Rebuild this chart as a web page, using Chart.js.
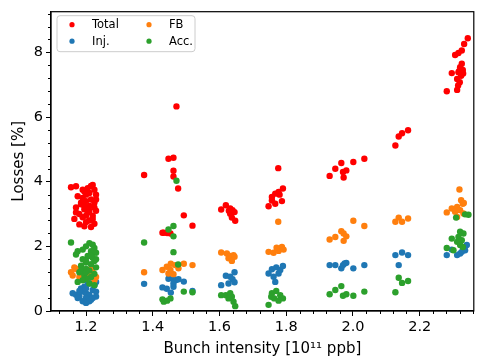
<!DOCTYPE html>
<html>
<head>
<meta charset="utf-8">
<script src="https://cdn.jsdelivr.net/npm/chart.js@4/dist/chart.umd.min.js"></script>
<style>
html,body{margin:0;padding:0;background:#fff;}
#wrap{width:477px;height:358px;position:relative;}
</style>
</head>
<body>
<div id="wrap"><canvas id="c" width="477" height="358"></canvas></div>
<script>
// ---- data ----
const seriesNames = ['Total', 'Inj.', 'FB', 'Acc.'];
const seriesColors = ['#ff0000', '#1f77b4', '#ff7f0e', '#2ca02c'];
const xTicks = [1.2, 1.4, 1.6, 1.8, 2.0, 2.2];
const yTicks = [0, 2, 4, 6, 8];

const totalX = [1.155,1.17,1.215,1.22,1.205,1.225,1.195,1.21,1.23,1.175,1.19,1.215,1.2,1.225,1.185,1.21,1.17,1.195,1.23,1.205,1.18,1.22,1.19,1.165,1.21,1.2,1.225,1.18,1.195,1.215,1.185,1.2,1.225,1.17,1.2,1.23,1.19,1.21,1.22,1.195,
  1.471,1.447,1.462,1.374,1.462,1.462,1.476,1.493,1.519,1.429,1.433,1.443,1.453,
  1.605,1.619,1.632,1.639,1.645,1.632,1.637,1.647,1.628,
  1.776,1.747,1.757,1.767,1.777,1.79,1.787,1.767,1.757,1.78,
  1.93,1.947,1.965,1.97,1.98,1.972,2.001,2.034,
  2.127,2.137,2.147,2.165,
  2.344,2.333,2.326,2.316,2.306,2.326,2.321,2.329,2.316,2.296,2.324,2.312,2.32,2.315,2.281,2.312,2.318,2.33];
const totalY = [3.83,3.86,3.87,3.9,3.8,3.75,3.7,3.65,3.6,3.55,3.5,3.45,3.4,3.35,3.3,3.25,3.2,3.15,3.1,3.05,3.0,2.95,2.9,2.85,2.8,2.75,2.7,2.68,2.62,2.6,3.35,3.6,3.2,3.05,2.95,3.45,3.75,3.1,2.85,3.25,
  6.33,4.71,4.74,4.21,4.34,4.16,3.79,2.96,2.64,2.42,2.42,2.41,2.40,
  3.14,3.27,3.17,3.12,3.06,3.01,2.89,2.79,3.10,
  4.42,3.24,3.53,3.63,3.68,3.79,3.40,3.32,3.42,3.60,
  4.18,4.40,4.58,4.30,4.35,4.13,4.61,4.71,
  5.12,5.40,5.50,5.59,
  8.44,8.26,8.06,7.98,7.92,7.65,7.54,7.46,7.39,7.36,7.28,7.18,7.08,6.98,6.80,6.84,7.42,7.35];

const injX = [1.16,1.17,1.18,1.19,1.2,1.21,1.22,1.23,1.225,1.21,1.195,1.2,1.215,1.19,1.185,1.23,1.205,1.18,1.22,1.2,1.21,1.175,1.23,1.2,
  1.374,1.429,1.442,1.454,1.447,1.462,1.47,1.477,1.462,1.493,1.519,1.462,
  1.605,1.619,1.632,1.645,1.639,1.627,1.645,
  1.747,1.757,1.77,1.782,1.79,1.762,1.777,1.767,
  1.93,1.947,1.965,1.97,1.975,1.98,2.001,2.034,
  2.127,2.147,2.165,2.137,
  2.341,2.336,2.321,2.312,2.281,2.296,2.326];
const injY = [0.55,0.5,0.45,0.6,0.55,0.5,0.65,0.6,0.8,0.85,0.75,0.4,0.35,0.3,0.7,0.45,0.9,0.62,0.4,0.7,0.3,0.4,0.9,0.25,
  0.84,0.73,0.69,0.57,1.0,0.98,0.96,0.98,0.75,0.91,0.62,0.85,
  0.80,1.09,1.06,1.20,0.98,0.85,0.89,
  1.16,1.29,1.35,1.27,1.39,1.06,1.16,0.90,
  1.42,1.42,1.32,1.42,1.47,1.49,1.32,1.42,
  1.73,1.81,1.73,1.42,
  2.04,1.88,1.78,1.73,1.73,1.90,1.83];

const fbX = [1.155,1.16,1.17,1.18,1.19,1.2,1.21,1.22,1.23,1.225,1.2,1.185,1.215,1.165,
  1.374,1.429,1.442,1.454,1.467,1.477,1.493,1.519,1.447,1.462,1.453,
  1.605,1.622,1.632,1.642,1.627,1.637,1.645,
  1.776,1.747,1.762,1.777,1.787,1.792,1.771,
  1.93,1.947,1.965,1.972,1.98,1.972,2.001,2.034,
  2.127,2.137,2.147,2.165,
  2.319,2.324,2.329,2.332,2.312,2.296,2.321,2.281,2.306,2.331,2.312];
const fbY = [1.2,1.1,1.3,1.05,1.15,1.25,1.1,1.2,1.05,0.95,1.0,1.25,1.3,1.35,
  1.20,1.27,1.37,1.46,1.42,1.32,1.46,1.42,1.16,1.14,1.27,
  1.81,1.78,1.70,1.73,1.63,1.55,1.68,
  2.76,1.83,1.80,1.86,1.98,1.90,1.96,
  2.21,2.29,2.47,2.40,2.31,2.17,2.79,2.63,
  2.76,2.89,2.76,2.86,
  3.76,3.43,3.32,3.34,3.22,3.17,3.12,3.05,3.07,3.02,2.91];

const accX = [1.155,1.175,1.17,1.21,1.22,1.2,1.225,1.19,1.215,1.23,1.205,1.22,1.19,1.225,1.2,1.215,1.185,1.23,1.2,1.21,1.18,1.225,1.195,1.215,1.2,1.19,1.175,1.21,1.225,1.2,1.23,1.185,1.215,1.2,
  1.471,1.374,1.462,1.447,1.462,1.462,1.476,1.493,1.519,1.429,1.433,1.443,1.453,
  1.605,1.619,1.632,1.637,1.627,1.642,1.647,
  1.747,1.757,1.77,1.782,1.79,1.764,1.777,1.755,
  1.93,1.947,1.965,1.97,1.98,2.001,2.034,
  2.127,2.137,2.147,2.165,
  2.336,2.346,2.309,2.321,2.331,2.316,2.326,2.296,2.312,2.321,2.281,2.301,2.329];
const accY = [2.12,1.85,1.75,2.1,2.05,2.0,1.95,1.9,1.85,1.8,1.7,1.65,1.6,1.55,1.5,1.45,1.4,1.35,1.3,1.25,1.2,1.15,1.1,1.05,1.0,0.95,0.9,0.85,0.8,1.55,1.6,1.25,1.7,1.2,
  4.03,2.12,2.63,2.52,2.31,1.82,1.44,0.60,0.58,0.36,0.29,0.32,0.39,
  0.49,0.49,0.55,0.44,0.39,0.29,0.15,
  0.19,0.55,0.62,0.49,0.39,0.39,0.32,0.44,
  0.52,0.65,0.77,0.47,0.52,0.47,0.60,
  0.58,1.03,0.87,0.93,
  2.99,2.98,2.89,2.45,2.40,2.29,2.19,2.24,2.14,2.04,1.95,1.88,1.98];

const xRange = [1.095, 2.362];
const yRange = [0, 9.26];

// ---- chart ----
const FONT = "'DejaVu Sans', sans-serif";
function pts(xs, ys) { return xs.map((x, i) => ({x: x, y: ys[i]})); }
const seriesData = [pts(totalX, totalY), pts(injX, injY), pts(fbX, fbY), pts(accX, accY)];

const decor = {
  id: 'decor',
  afterDraw(chart) {
    const {ctx, chartArea: a, scales: {x, y}} = chart;
    ctx.save();
    ctx.strokeStyle = '#000';
    ctx.lineWidth = 1;
    // minor ticks
    ctx.beginPath();
    const isMajor = (v, list) => list.some(t => Math.abs(t - v) < 1e-6);
    for (let k = Math.ceil(xRange[0] / 0.04); k * 0.04 <= xRange[1]; k++) {
      const v = k * 0.04;
      if (isMajor(v, xTicks)) continue;
      const px = Math.round(x.getPixelForValue(v)) + 0.5;
      ctx.moveTo(px, a.bottom); ctx.lineTo(px, a.bottom + 3);
    }
    for (let k = 1; k * 0.4 <= yRange[1]; k++) {
      const v = k * 0.4;
      if (isMajor(v, yTicks)) continue;
      const py = Math.round(y.getPixelForValue(v)) + 0.5;
      ctx.moveTo(a.left, py); ctx.lineTo(a.left - 3, py);
    }
    ctx.stroke();
    // frame
    ctx.lineWidth = 1.2;
    ctx.strokeRect(a.left, a.top, a.right - a.left, a.bottom - a.top);
    // legend
    const lx = a.left + 6, ly = a.top + 4, lw = 138, lh = 36, r = 3;
    ctx.beginPath();
    ctx.moveTo(lx + r, ly); ctx.lineTo(lx + lw - r, ly); ctx.arcTo(lx + lw, ly, lx + lw, ly + r, r);
    ctx.lineTo(lx + lw, ly + lh - r); ctx.arcTo(lx + lw, ly + lh, lx + lw - r, ly + lh, r);
    ctx.lineTo(lx + r, ly + lh); ctx.arcTo(lx, ly + lh, lx, ly + lh - r, r);
    ctx.lineTo(lx, ly + r); ctx.arcTo(lx, ly, lx + r, ly, r);
    ctx.closePath();
    ctx.fillStyle = 'rgba(255,255,255,0.8)';
    ctx.fill();
    ctx.strokeStyle = '#cccccc';
    ctx.lineWidth = 1;
    ctx.stroke();
    const ds = chart.data.datasets;
    const layout = [[0, 0], [1, 0], [0, 1], [1, 1]]; // [row, col] per dataset index: Total, Inj., FB, Acc.
    ctx.font = "11.5px " + FONT;
    ctx.textBaseline = 'middle';
    ds.forEach((d, i) => {
      const [row, col] = layout[i];
      const mx = lx + 15 + col * 77, my = ly + 9 + row * 16.5;
      ctx.beginPath();
      ctx.arc(mx, my, 2.6, 0, Math.PI * 2);
      ctx.fillStyle = d.backgroundColor;
      ctx.fill();
      ctx.fillStyle = '#000';
      ctx.fillText(d.label, mx + 20, my + 0.5);
    });
    ctx.restore();
  }
};

new Chart(document.getElementById('c'), {
  type: 'scatter',
  data: {
    datasets: seriesNames.map((n, i) => ({
      label: n,
      data: seriesData[i],
      backgroundColor: seriesColors[i],
      borderColor: seriesColors[i],
      borderWidth: 0,
      pointRadius: 3.2,
      pointHoverRadius: 3.2,
      order: 4 - i
    }))
  },
  options: {
    responsive: false,
    animation: false,
    events: [],
    layout: {padding: {left: 0, right: 3, top: 11, bottom: 0}},
    plugins: {legend: {display: false}, tooltip: {enabled: false}},
    scales: {
      x: {
        type: 'linear', min: xRange[0], max: xRange[1],
        afterBuildTicks: s => { s.ticks = xTicks.map(v => ({value: v})); },
        afterFit: s => { s.height = 47; },
        grid: {display: true, drawOnChartArea: false, drawTicks: true, tickLength: 5, tickColor: '#000', tickWidth: 1},
        border: {display: true, color: '#000', width: 1.2},
        ticks: {color: '#000', padding: 3, maxRotation: 0, font: {family: FONT, size: 14.5}, callback: v => v.toFixed(1)},
        title: {display: true, text: 'Bunch intensity [10¹¹ ppb]', color: '#000', font: {family: FONT, size: 15}, padding: {top: 0, bottom: 0}}
      },
      y: {
        type: 'linear', min: yRange[0], max: yRange[1],
        afterBuildTicks: s => { s.ticks = yTicks.map(v => ({value: v})); },
        afterFit: s => { s.width = 51; },
        grid: {display: true, drawOnChartArea: false, drawTicks: true, tickLength: 5, tickColor: '#000', tickWidth: 1},
        border: {display: true, color: '#000', width: 1.2},
        ticks: {color: '#000', padding: 3, font: {family: FONT, size: 14.5}, callback: v => String(v)},
        title: {display: true, text: 'Losses [%]', color: '#000', font: {family: FONT, size: 15}, padding: {top: 10, bottom: 0}}
      }
    }
  },
  plugins: [decor]
});
</script>
</body>
</html>
